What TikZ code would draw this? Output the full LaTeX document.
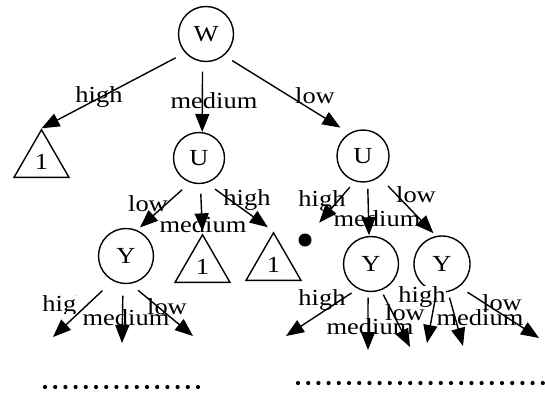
\documentclass[tikz,border=0pt]{standalone}
\usepackage{fontspec}
\newfontfamily\lblfont[FakeStretch=1.15]{Liberation Serif}
\usetikzlibrary{arrows.meta,shapes.geometric}
\begin{document}
\begin{tikzpicture}[x=1pt,y=-1pt,
  every node/.style={font=\lblfont\fontsize{23}{27}\selectfont},
  var/.style={circle,draw,line width=1.4pt,inner sep=0pt,minimum size=#1},
  leaf/.style={regular polygon,regular polygon sides=3,draw,line width=1.4pt,inner sep=0pt,minimum size=63.5pt},
  lbl/.style={anchor=base,fill=white,inner sep=0pt},
  edge/.style={line width=1.4pt,-{Triangle[length=18pt,width=14pt]}}]
\useasboundingbox[fill=white] (0,0) rectangle (545,394);

% nodes
\node[var=55pt] (W) at (206,34) {W};
\node[var=51pt] (U1) at (199,158) {U};
\node[var=52pt] (U2) at (363,156) {U};
\node[var=55pt] (Y1) at (126,256) {Y};
\node[var=55pt] (Y2) at (371,264) {Y};
\node[var=56pt] (Y3) at (442,264) {Y};
\node[leaf] (T1) at (41.5,161.5) {1};
\node[leaf] (T2) at (202.5,266.5) {1};
\node[leaf] (T3) at (273.5,264.5) {1};
\node[circle,fill,inner sep=0pt,minimum size=13pt] (dot) at (305,240) {};

% free ends
\coordinate (a1) at (53,337);
\coordinate (a2) at (122,343);
\coordinate (a3) at (193,336);
\coordinate (b1) at (286,336);
\coordinate (b2) at (368,350);
\coordinate (b3) at (410,347);
\coordinate (c1) at (427,343);
\coordinate (c2) at (463,346);
\coordinate (c3) at (539,338);

% labels
\node[lbl] (l1) at (99,102) {high};
\node[lbl] (l2) at (214,108) {medium};
\node[lbl] (l3) at (315,103) {low};
\node[lbl] (l4) at (148,211) {low};
\node[lbl] (l5) at (203,232) {medium};
\node[lbl] (l6) at (247,205) {high};
\node[lbl] (l7) at (322,206) {high};
\node[lbl] (l8) at (377,226) {medium};
\node[lbl] (l9) at (416,202) {low};
\begin{scope}
  \clip (40,290) rectangle (76.3,313);
  \node[lbl] (l10) at (66,311) {high};
\end{scope}
\node[lbl] (l11) at (126,325) {medium};
\node[lbl] (l12) at (167,314) {low};
\node[lbl] (l13) at (322,305) {high};
\node[lbl] (l14) at (370,334) {medium};
\node[lbl] (l15) at (405,320) {low};
\node[lbl] (l16) at (422,302) {high};
\node[lbl] (l17) at (480,325) {medium};
\node[lbl] (l18) at (502,310) {low};

% edges
\draw[edge,shorten <=10.7pt] (W.222.9) -- (T1.corner 1);
\draw[edge,shorten <=9.7pt] (W.263.8) -- (U1.83.2);
\draw[edge,shorten <=9.4pt,shorten >=10.4pt] (W.310.6) -- (U2.121.5);
\draw[edge,shorten <=10.6pt,shorten >=3.9pt] (U1.250.6) -- (Y1.67.5);
\draw[edge,shorten <=9.6pt,shorten >=2pt] (U1.273.3) -- (T2.corner 1);
\draw[edge,shorten <=10.2pt,shorten >=7pt] (U1.287.9) -- (T3.corner 1);
\draw[edge,shorten <=7.5pt,shorten >=15.7pt] (U2.252.6) -- (dot.54.2);
\draw[edge,shorten <=6.6pt,shorten >=0.6pt] (U2.280.6) -- (Y2.94.1);
\draw[edge,shorten <=12.4pt,shorten >=3.8pt] (U2.308.7) -- (Y3.102.7);
\draw[edge,shorten <=14.1pt] (Y1.242.8) -- (a1);
\draw[edge,shorten <=11.7pt] (Y1.264.1) -- (a2);
\draw[edge,shorten <=10pt] (Y1.279.2) -- (a3);
\draw[edge,shorten <=7.4pt] (Y2.242.7) -- (b1);
\draw[edge,shorten <=5.6pt] (Y2.264.8) -- (b2);
\draw[edge,shorten <=4.8pt] (Y2.291.8) -- (b3);
\draw[edge,shorten <=5.5pt] (Y3.259.7) -- (c1);
\draw[edge,shorten <=5.7pt] (Y3.282) -- (c2);
\draw[edge,shorten <=9.8pt] (Y3.307.5) -- (c3);

% dotted continuation rows
\foreach \i in {0,...,15} \fill (45+10.2*\i,387) circle (2.1pt);
\foreach \i in {0,...,24} \fill (298+10.2*\i,383) circle (2.1pt);
\end{tikzpicture}
\end{document}
